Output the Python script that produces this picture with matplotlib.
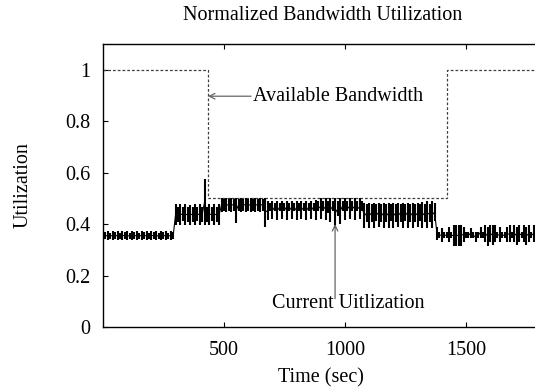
import numpy as np
import matplotlib
matplotlib.use("Agg")
import matplotlib.pyplot as plt

plt.rcParams['font.family'] = ['Liberation Serif', 'DejaVu Serif']

# Measured utilization, summarised per 10 s interval (t = 0, 10, ..., 1800):
# lowest and highest value seen within each interval.
bin_width = 10
util_hi = [
    # 0 - 290 s
    0.372, 0.368, 0.372, 0.366, 0.372, 0.368, 0.372, 0.366, 0.372, 0.368,
    0.372, 0.366, 0.372, 0.368, 0.372, 0.366, 0.372, 0.368, 0.372, 0.366,
    0.372, 0.368, 0.372, 0.366, 0.372, 0.368, 0.372, 0.366, 0.372, 0.368,
    # 300 - 480 s
    0.477, 0.465, 0.477, 0.466, 0.477, 0.465, 0.476, 0.466, 0.477, 0.465,
    0.477, 0.466, 0.576, 0.465, 0.477, 0.466, 0.477, 0.465, 0.477,
    # 490 - 670 s
    0.503, 0.498, 0.503, 0.497, 0.503, 0.498, 0.503, 0.497, 0.503, 0.498,
    0.503, 0.497, 0.503, 0.498, 0.503, 0.497, 0.503, 0.498, 0.503,
    # 680 - 870 s
    0.488, 0.482, 0.488, 0.483, 0.488, 0.482, 0.488, 0.483, 0.488, 0.482,
    0.488, 0.483, 0.488, 0.482, 0.490, 0.483, 0.488, 0.482, 0.488, 0.483,
    # 880 - 1070 s
    0.495, 0.488, 0.503, 0.488, 0.500, 0.488, 0.503, 0.490, 0.503, 0.488,
    0.503, 0.490, 0.503, 0.488, 0.500, 0.490, 0.503, 0.488, 0.500, 0.488,
    # 1080 - 1370 s
    0.481, 0.477, 0.481, 0.477, 0.481, 0.477, 0.481, 0.477, 0.481, 0.477,
    0.481, 0.477, 0.481, 0.477, 0.481, 0.477, 0.481, 0.477, 0.481, 0.477,
    0.481, 0.477, 0.481, 0.477, 0.485, 0.477, 0.488, 0.477, 0.488, 0.480,
    # 1380 - 1800 s
    0.390, 0.368, 0.385, 0.368, 0.368, 0.390, 0.368, 0.395, 0.397, 0.395,
    0.397, 0.390, 0.368, 0.368, 0.385, 0.368, 0.368, 0.368, 0.390, 0.368,
    0.397, 0.390, 0.397, 0.395, 0.397, 0.368, 0.390, 0.368, 0.368, 0.390,
    0.395, 0.368, 0.397, 0.390, 0.397, 0.368, 0.395, 0.390, 0.397, 0.368,
    0.397, 0.390, 0.397,
]
util_lo = [
    # 0 - 290 s
    0.340, 0.342, 0.338, 0.341, 0.340, 0.342, 0.338, 0.341, 0.340, 0.342,
    0.338, 0.341, 0.340, 0.342, 0.338, 0.341, 0.340, 0.342, 0.338, 0.341,
    0.340, 0.342, 0.338, 0.341, 0.340, 0.342, 0.338, 0.341, 0.340, 0.342,
    # 300 - 480 s
    0.397, 0.410, 0.398, 0.411, 0.397, 0.410, 0.398, 0.410, 0.397, 0.411,
    0.398, 0.410, 0.397, 0.410, 0.398, 0.411, 0.397, 0.410, 0.398,
    # 490 - 670 s
    0.446, 0.452, 0.447, 0.451, 0.446, 0.452, 0.403, 0.451, 0.446, 0.452,
    0.447, 0.451, 0.446, 0.452, 0.447, 0.451, 0.446, 0.452, 0.390,
    # 680 - 870 s
    0.416, 0.449, 0.418, 0.449, 0.416, 0.449, 0.420, 0.449, 0.416, 0.449,
    0.418, 0.449, 0.416, 0.449, 0.418, 0.449, 0.416, 0.449, 0.418, 0.449,
    # 880 - 1070 s
    0.416, 0.449, 0.418, 0.449, 0.416, 0.445, 0.410, 0.449, 0.385, 0.430,
    0.400, 0.449, 0.416, 0.449, 0.418, 0.449, 0.416, 0.449, 0.418, 0.449,
    # 1080 - 1370 s
    0.384, 0.410, 0.386, 0.410, 0.384, 0.412, 0.388, 0.410, 0.384, 0.410,
    0.386, 0.412, 0.384, 0.410, 0.388, 0.410, 0.384, 0.412, 0.386, 0.410,
    0.384, 0.410, 0.388, 0.412, 0.384, 0.410, 0.386, 0.410, 0.384, 0.412,
    # 1380 - 1800 s
    0.340, 0.345, 0.330, 0.345, 0.345, 0.330, 0.345, 0.316, 0.316, 0.316,
    0.316, 0.330, 0.345, 0.345, 0.345, 0.345, 0.330, 0.345, 0.345, 0.345,
    0.330, 0.316, 0.330, 0.320, 0.330, 0.345, 0.330, 0.345, 0.345, 0.330,
    0.330, 0.345, 0.330, 0.318, 0.330, 0.345, 0.330, 0.320, 0.330, 0.345,
    0.330, 0.320, 0.330,
]
util_time = np.arange(len(util_hi)) * bin_width

# Available bandwidth (normalized), piecewise constant
bw_time = [0, 434, 434, 1420, 1420, 1800]
bw_value = [1.0, 1.0, 0.5, 0.5, 1.0, 1.0]

x_ticks = [500, 1000, 1500]
y_ticks = [0, 0.2, 0.4, 0.6, 0.8, 1.0]
y_tick_labels = ['0', '0.2', '0.4', '0.6', '0.8', '1']

FS = 14.5

fig = plt.figure(figsize=(5.35, 3.91), dpi=100)
ax = fig.add_axes([0.1925, 0.1637, 0.8142, 0.7238])

ax.plot(bw_time, bw_value, color='0.25', lw=0.9, linestyle=(0, (2.2, 1.6)))
# per-interval range, plus a thin trace through the interval centres
ax.vlines(util_time, util_lo, util_hi, color='black', lw=1.5)
util_mid = (np.array(util_lo) + np.array(util_hi)) / 2
ax.plot(util_time, util_mid, color='black', lw=0.8)

ax.set_xlim(0, 1800)
ax.set_ylim(0, 1.1)
ax.set_xticks(x_ticks)
ax.set_xticklabels([str(v) for v in x_ticks])
ax.set_yticks(y_ticks)
ax.set_yticklabels(y_tick_labels)
ax.tick_params(direction='in', length=3.5, width=0.8, labelsize=FS,
               top=True, right=False)
ax.tick_params(axis='x', pad=10)
ax.tick_params(axis='y', pad=9)
for s in ax.spines.values():
    s.set_linewidth(1.0)

fig.text(0.603, 1 - 15 / 391, 'Normalized Bandwidth Utilization',
         fontsize=FS, ha='center', va='center')
ax.set_xlabel('Time (sec)', fontsize=FS, va='center')
ax.xaxis.set_label_coords(0.5, -0.178)
ax.set_ylabel('Utilization', fontsize=FS, va='center')
ax.yaxis.set_label_coords(-0.183, 0.5)

arrow = dict(arrowstyle='->', color='0.4', lw=0.9, shrinkA=0, shrinkB=0)
ax.annotate('', xy=(434, 0.897), xytext=(612, 0.897), arrowprops=arrow)
ax.text(620, 0.897, 'Available Bandwidth', fontsize=FS, va='center', ha='left')
ax.annotate('', xy=(959, 0.40), xytext=(959, 0.11), arrowprops=arrow)
ax.text(700, 0.093, 'Current Uitlization', fontsize=FS, va='center', ha='left')

fig.savefig('out.png', dpi=100)
